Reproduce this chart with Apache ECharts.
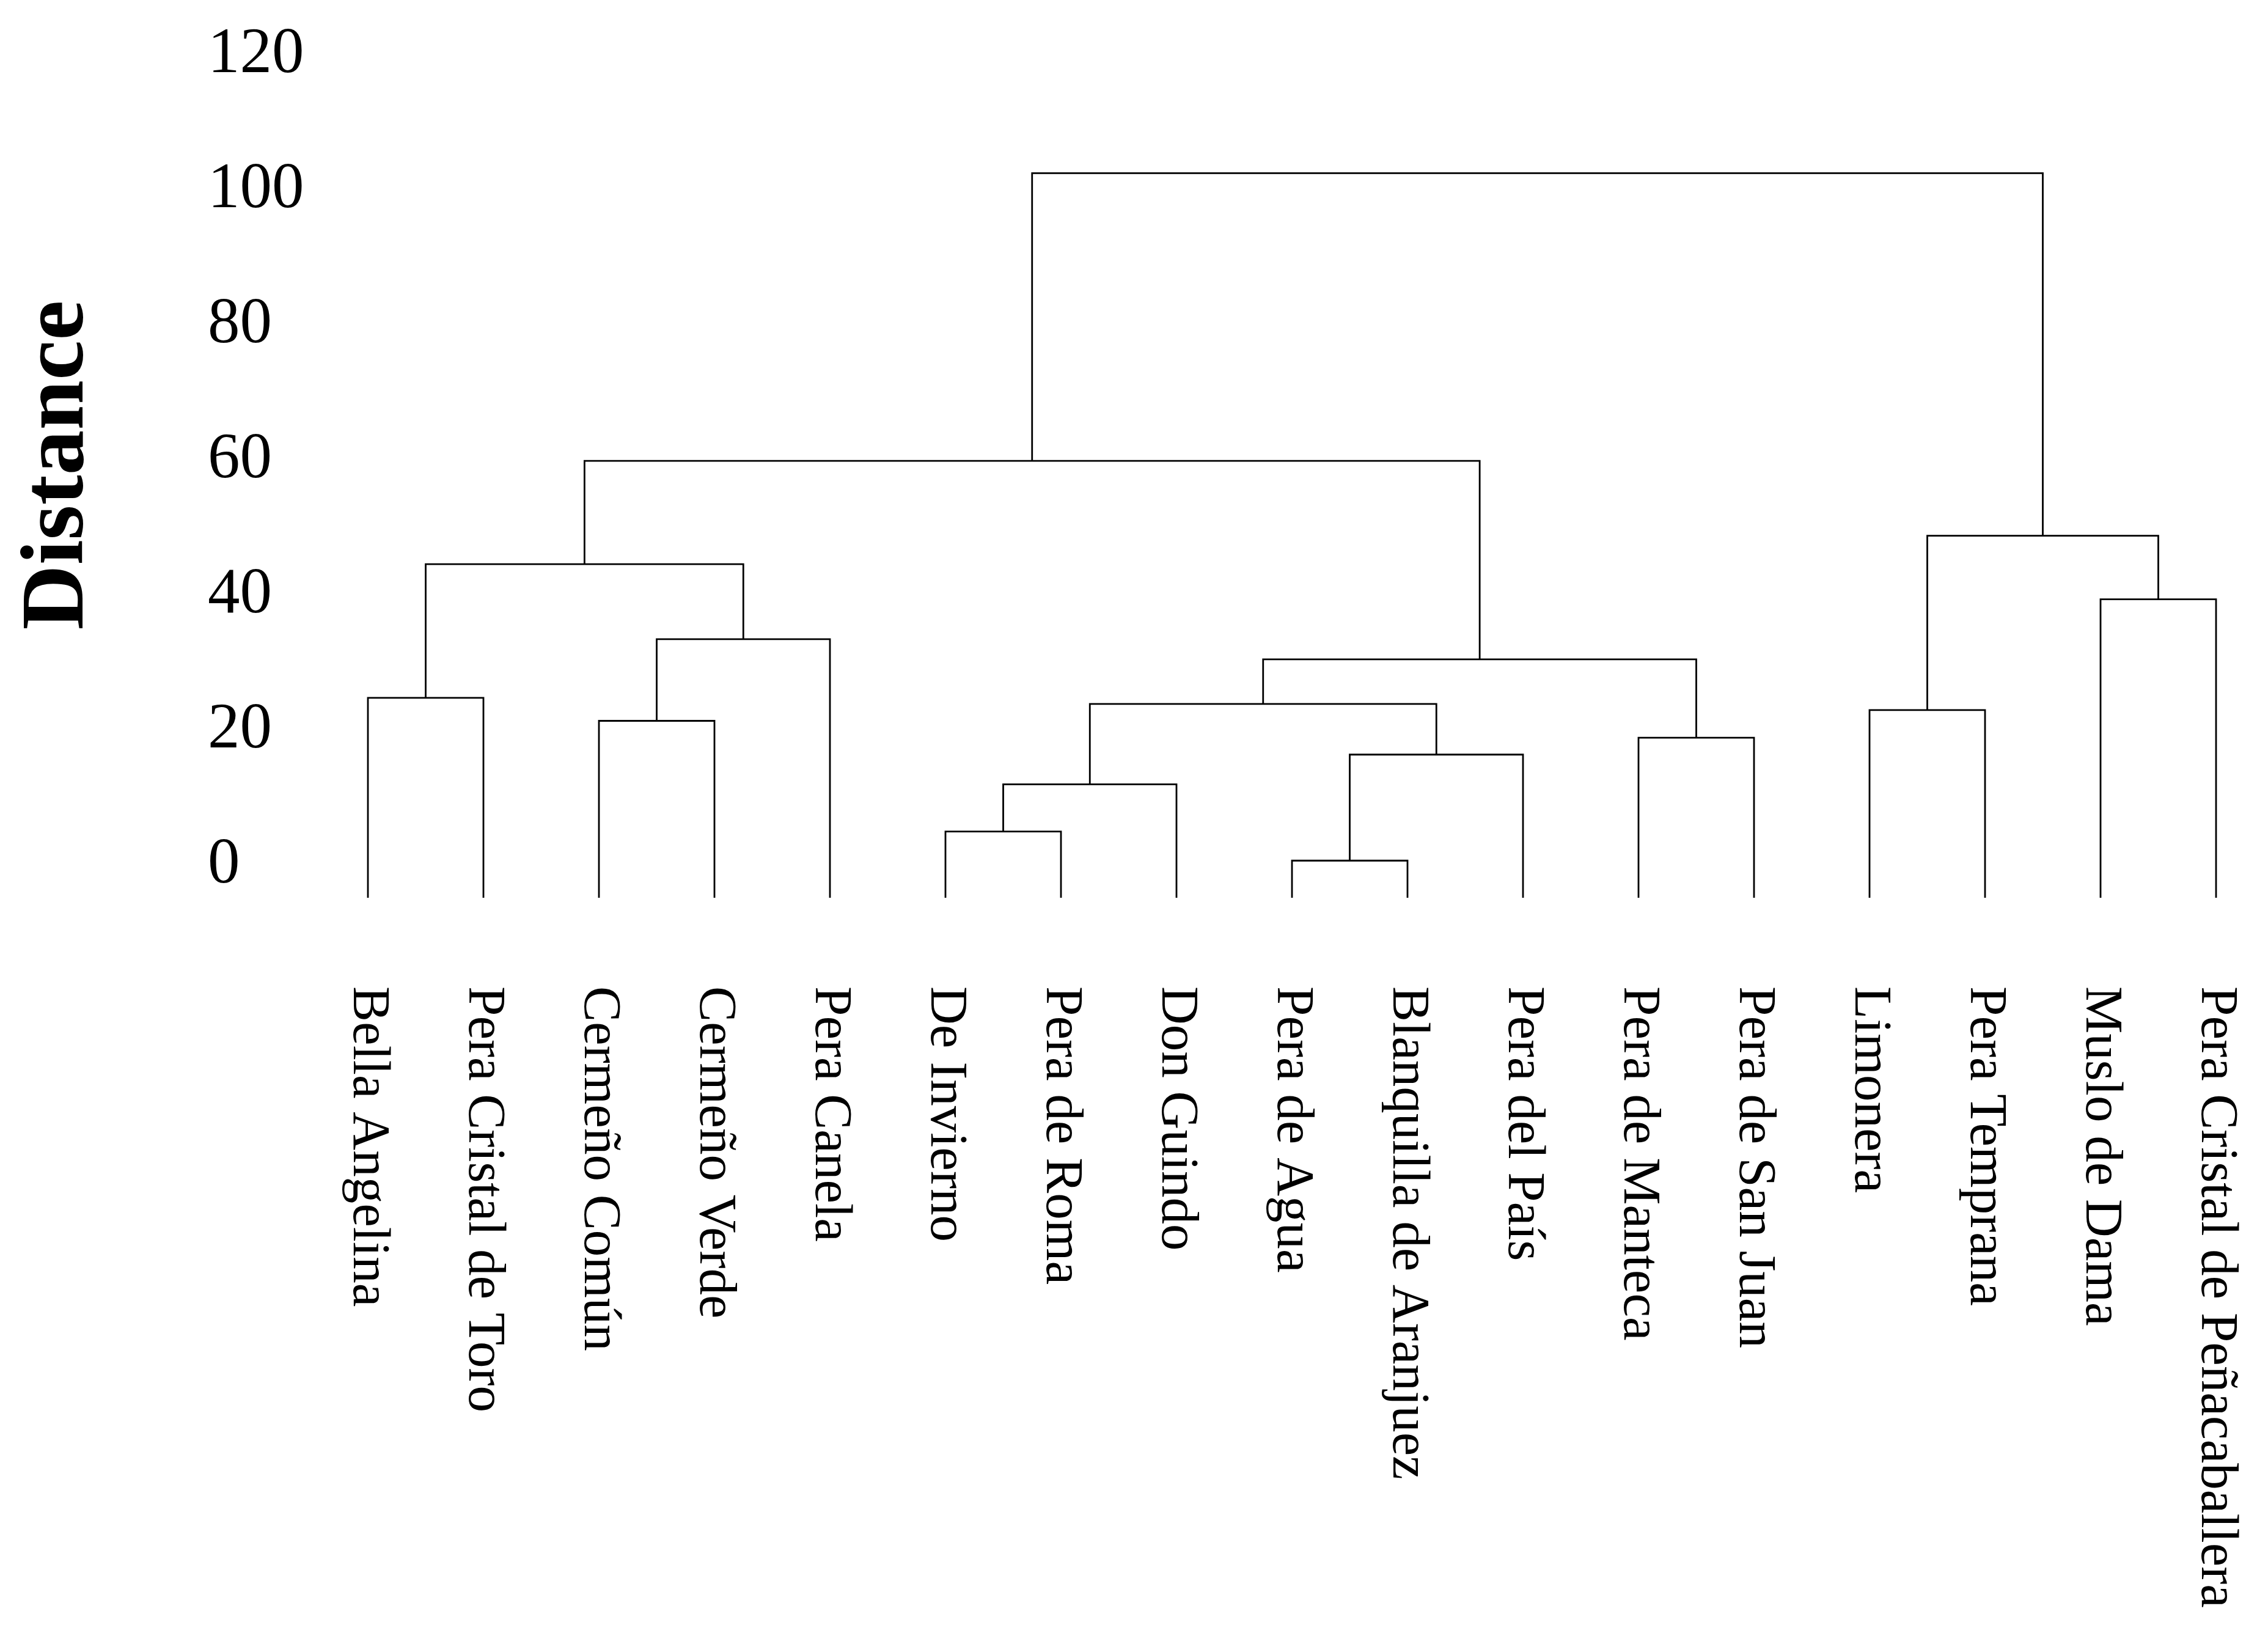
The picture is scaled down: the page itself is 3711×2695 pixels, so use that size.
<!DOCTYPE html>
<html><head><meta charset="utf-8">
<script src="https://cdn.jsdelivr.net/npm/echarts@6/dist/echarts.min.js"></script>
<style>html,body{margin:0;padding:0;background:#fff}#c{width:3711px;height:2695px}</style>
</head><body><div id="c"></div>
<script>
// Leaves (left to right)
const leaves = ['Bella Angelina','Pera Cristal de Toro','Cermeño Común','Cermeño Verde','Pera Canela',
  'De Invierno','Pera de Roma','Don Guindo','Pera de Agua','Blanquilla de Aranjuez','Pera del País',
  'Pera de Manteca','Pera de San Juan','Limonera','Pera Temprana','Muslo de Dama','Pera Cristal de Peñacaballera'];
// Merge steps: node ids 0..16 are leaves, merge k creates node 17+k
const mergeA = [8, 5, 18, 17, 11, 2, 13, 19, 0, 24, 22, 15, 25, 23, 29, 31];
const mergeB = [9, 6, 7, 10, 12, 3, 14, 20, 1, 21, 4, 16, 27, 28, 26, 30];
const mergeH = [5.5, 9.8, 16.8, 21.2, 23.7, 26.2, 27.8, 28.7, 29.6, 35.3, 38.3, 44.2, 49.4, 53.6, 64.7, 107.3];
const yTicks = [0, 20, 40, 60, 80, 100, 120];

const pos = leaves.map((_, i) => i);
const hgt = leaves.map(() => 0);
const links = [];
mergeA.forEach((a, k) => {
  const b = mergeB[k];
  links.push([pos[a], hgt[a], pos[b], hgt[b], mergeH[k]]);
  pos.push((pos[a] + pos[b]) / 2);
  hgt.push(mergeH[k]);
});

const chart = echarts.init(document.getElementById('c'));
chart.setOption({
  backgroundColor: '#fff',
  animation: false,
  grid: { left: 602, right: 85, top: 143, bottom: 1226 },
  xAxis: {
    type: 'value', min: 0, max: leaves.length - 1, interval: 1,
    axisLine: { show: false }, axisTick: { show: false }, splitLine: { show: false },
    axisLabel: {
      rotate: -90, margin: 145, showMinLabel: true, showMaxLabel: true,
      fontFamily: 'Liberation Serif', fontSize: 87, color: '#000',
      formatter: v => leaves[Math.round(v)] || ''
    }
  },
  yAxis: {
    type: 'value', min: yTicks[0], max: yTicks[yTicks.length - 1], interval: 20,
    axisLine: { show: false },
    axisTick: { show: false },
    splitLine: { show: false },
    axisLabel: {
      margin: 262, align: 'left', verticalAlign: 'bottom', lineHeight: 106,
      showMinLabel: true, showMaxLabel: true,
      fontFamily: 'Liberation Serif', fontSize: 105, color: '#000'
    }
  },
  graphic: [{
    type: 'text', x: 97, y: 761, rotation: Math.PI / 2,
    style: {
      text: 'Distance', fontFamily: 'Liberation Serif', fontWeight: 'bold', fontSize: 147,
      fill: '#000', align: 'center', verticalAlign: 'middle'
    }
  }],
  series: [{
    type: 'custom',
    data: links,
    dimensions: ['x1', 'h1', 'x2', 'h2', 'h'],
    encode: { x: [0, 2], y: [1, 3, 4] },
    renderItem: (params, api) => {
      const p1 = api.coord([api.value(0), api.value(1)]);
      const p2 = api.coord([api.value(0), api.value(4)]);
      const p3 = api.coord([api.value(2), api.value(4)]);
      const p4 = api.coord([api.value(2), api.value(3)]);
      return {
        type: 'polyline',
        shape: { points: [p1, p2, p3, p4] },
        style: { stroke: '#000', lineWidth: 2.8, fill: null }
      };
    }
  }]
});
</script>
</body></html>
